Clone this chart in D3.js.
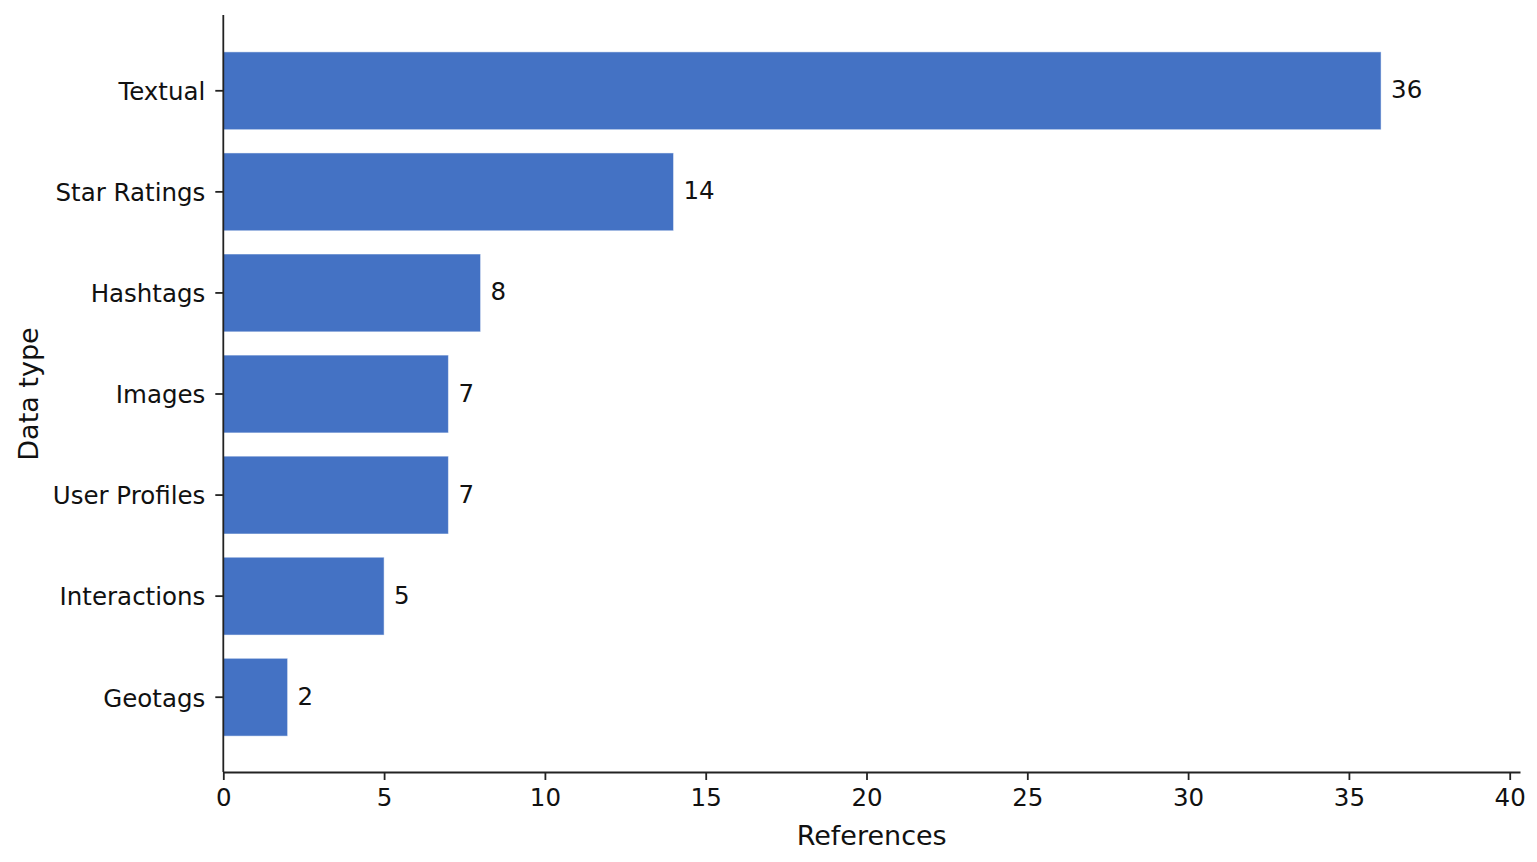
<!DOCTYPE html>
<html>
<head>
<meta charset="utf-8">
<title>Data type references</title>
<script src="https://cdn.jsdelivr.net/npm/d3@7/dist/d3.min.js"></script>
<style>
  body { margin: 0; background: #fff; }
  svg { display: block; }
  text { font-family: "DejaVu Sans", sans-serif; fill: #111; }
</style>
</head>
<body>
<svg id="chart" width="1537" height="862"></svg>
<script>
// chart data
var categories = ["Textual", "Star Ratings", "Hashtags", "Images", "User Profiles", "Interactions", "Geotags"];
var references = [36, 14, 8, 7, 7, 5, 2];
var xTicks = [0, 5, 10, 15, 20, 25, 30, 35, 40];

var svg = d3.select("#chart");
var plotLeft = 223.3, plotRight = 1520, plotTop = 16, plotBottom = 772;
var tickFont = "24.5px";

// x limit is 12% above the biggest value, like the original
var x = d3.scaleLinear().domain([0, d3.max(references) * 1.12]).range([plotLeft, plotRight]);
var y = d3.scaleBand().domain(categories).range([plotTop, plotBottom])
  .paddingInner(0.23).paddingOuter(0.355);

// bars
svg.append("g").selectAll("rect")
  .data(categories)
  .enter().append("rect")
  .attr("x", x(0))
  .attr("y", function(d){ return y(d); })
  .attr("width", function(d, i){ return x(references[i]) - x(0); })
  .attr("height", y.bandwidth())
  .attr("fill", "#4472C4")
  .attr("stroke", "rgba(255,255,255,0.5)")
  .attr("stroke-width", 1);

// value labels
svg.append("g").selectAll("text")
  .data(categories)
  .enter().append("text")
  .attr("x", function(d, i){ return x(references[i]) + 10; })
  .attr("y", function(d){ return y(d) + y.bandwidth() / 2 - 1; })
  .attr("dominant-baseline", "central")
  .style("font-size", tickFont)
  .text(function(d, i){ return references[i]; });

// axes
var xAxis = svg.append("g")
  .attr("transform", "translate(0," + plotBottom + ")")
  .call(d3.axisBottom(x).tickValues(xTicks).tickSize(8).tickPadding(9).tickSizeOuter(0));
var yAxis = svg.append("g")
  .attr("transform", "translate(" + plotLeft + ",0)")
  .call(d3.axisLeft(y).tickSize(8).tickPadding(10).tickSizeOuter(0));

[xAxis, yAxis].forEach(function(a){
  a.attr("font-size", null).attr("font-family", null);
  a.select(".domain").attr("stroke", "#222").attr("stroke-width", 1.8);
  a.selectAll(".tick line").attr("stroke", "#222").attr("stroke-width", 1.8);
  a.selectAll(".tick text").style("font-size", tickFont).attr("fill", "#111");
});
yAxis.selectAll(".tick text").attr("dy", "0.38em");
// the left spine goes up to the top of the plot area
yAxis.select(".domain").attr("d", "M0," + (plotTop - 1) + "V" + plotBottom);

// axis titles
svg.append("text")
  .attr("x", (plotLeft + plotRight) / 2)
  .attr("y", 835)
  .attr("text-anchor", "middle")
  .attr("dominant-baseline", "central")
  .style("font-size", "27px")
  .text("References");

svg.append("text")
  .attr("transform", "translate(28," + ((plotTop + plotBottom) / 2) + ") rotate(-90)")
  .attr("text-anchor", "middle")
  .attr("dominant-baseline", "central")
  .style("font-size", "27px")
  .text("Data type");
</script>
</body>
</html>
